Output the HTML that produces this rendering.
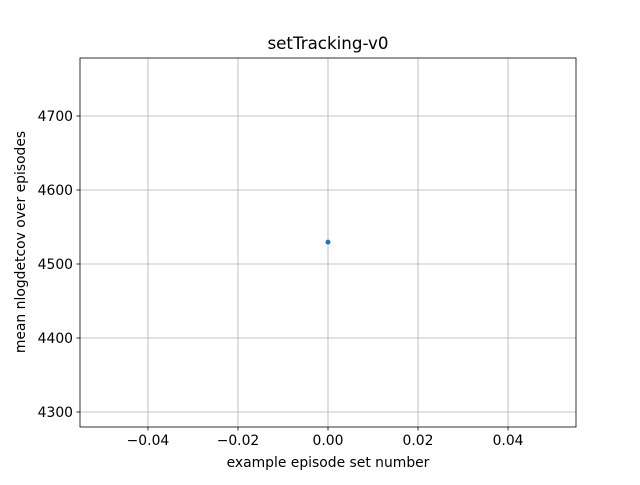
<!DOCTYPE html>
<html><head><meta charset="utf-8"><style>
body{margin:0;background:#fff}
svg text{font-family:"DejaVu Sans","Liberation Sans",sans-serif;fill:#000}
</style></head><body>
<svg id="chart" width="640" height="480" xmlns="http://www.w3.org/2000/svg">
<rect width="640" height="480" fill="#fff"/>
<g id="grid"></g>
<g id="ticks"></g>
<g id="marks"></g>
<rect x="80" y="58" width="496" height="369" fill="none" stroke="#000" stroke-width="0.8"/>
<text x="328" y="49" font-size="16.7" text-anchor="middle">setTracking-v0</text>
<text x="328" y="467" font-size="13.9" text-anchor="middle">example episode set number</text>
<text x="25" y="242" font-size="13.9" text-anchor="middle" transform="rotate(-90 25 242)">mean nlogdetcov over episodes</text>
</svg>
<script>
const xValues = [0];
const yValues = [4529.5];
const xTicks = [-0.04, -0.02, 0, 0.02, 0.04];
const xTickLabels = ["−0.04", "−0.02", "0.00", "0.02", "0.04"];
const yTicks = [4300, 4400, 4500, 4600, 4700];
const yTickLabels = ["4300", "4400", "4500", "4600", "4700"];
const X0 = 80, X1 = 576, Y0 = 58, Y1 = 427;
const xMin = -0.0551, xMax = 0.0551, yMin = 4279.7, yMax = 4778.4;
const sx = v => X0 + (v - xMin) / (xMax - xMin) * (X1 - X0);
const sy = v => Y1 - (v - yMin) / (yMax - yMin) * (Y1 - Y0);
const NS = "http://www.w3.org/2000/svg";
const grid = document.getElementById('grid'), ticks = document.getElementById('ticks'), marks = document.getElementById('marks');
function mk(tag, attrs, parent, txt) {
  const e = document.createElementNS(NS, tag);
  for (const k in attrs) e.setAttribute(k, attrs[k]);
  if (txt !== undefined) e.textContent = txt;
  parent.appendChild(e);
  return e;
}
xTicks.forEach((t, i) => {
  const x = sx(t);
  const g = mk('line', {x1: x, x2: x, y1: Y0, y2: Y1, stroke: '#b0b0b0', 'stroke-width': 0.8}, grid);
  
  
  mk('line', {x1: x, x2: x, y1: Y1, y2: Y1 + 3.5, stroke: '#000', 'stroke-width': 0.8}, ticks);
  const l = mk('text', {x: x, y: Y1 + 18, 'font-size': 13.9, 'text-anchor': 'middle'}, ticks, xTickLabels[i]);
  
  
});
yTicks.forEach((t, i) => {
  const y = sy(t);
  const g = mk('line', {x1: X0, x2: X1, y1: y, y2: y, stroke: '#b0b0b0', 'stroke-width': 0.8}, grid);
  
  
  mk('line', {x1: X0 - 3.5, x2: X0, y1: y, y2: y, stroke: '#000', 'stroke-width': 0.8}, ticks);
  const l = mk('text', {x: X0 - 7, y: y + 5, 'font-size': 13.9, 'text-anchor': 'end'}, ticks, yTickLabels[i]);
  
  
});
xValues.forEach((v, i) => {
  const c = mk('circle', {cx: sx(v), cy: sy(yValues[i]), r: 2.5, fill: '#1f77b4'}, marks);
  
  
});
</script>
</body></html>
